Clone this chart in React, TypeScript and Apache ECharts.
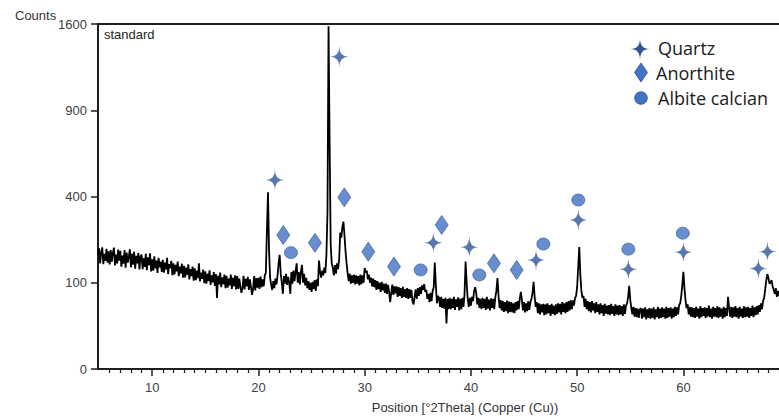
import React, { useEffect, useRef } from "react";
import * as echarts from "echarts";

// XRD scan: 2θ grid start/step, counts
const twoThetaStart = 4.9;
const twoThetaStep = 0.1;
const counts = [
  175,
  196, 150, 182, 199, 148, 178, 157, 194, 152, 186,
  147, 190, 155, 181, 198, 144, 176, 150, 192, 158,
  188, 141, 173, 149, 190, 138, 182, 152, 170, 193,
  139, 178, 146, 185, 135, 172, 150, 181, 133, 170,
  176, 134, 165, 140, 178, 131, 168, 145, 180, 128,
  162, 130, 171, 136, 158, 124, 166, 139, 155, 127,
  160, 125, 152, 133, 166, 121, 148, 137, 157, 118,
  150, 120, 146, 128, 155, 116, 141, 123, 149, 112,
  143, 113, 138, 119, 147, 108, 134, 116, 141, 105,
  136, 106, 130, 111, 150, 103, 125, 109, 133, 99,
  128, 98, 122, 104, 131, 95, 118, 101, 126, 93,
  121, 68, 117, 96, 125, 90, 113, 97, 120, 88,
  117, 89, 110, 94, 120, 86, 112, 92, 118, 85,
  116, 86, 110, 91, 78, 88, 117, 85, 109, 92,
  114, 84, 108, 90, 74, 87, 116, 83, 111, 89,
  112, 86, 115, 90, 108, 92, 118, 125, 260, 420,
  190, 112, 95, 84, 104, 88, 110, 96, 118, 150,
  175, 122, 100, 76, 116, 98, 122, 95, 114, 100,
  76, 126, 98, 130, 104, 128, 150, 100, 126, 96,
  128, 146, 100, 122, 94, 112, 88, 104, 84, 100,
  80, 102, 86, 106, 82, 108, 92, 158, 128, 112,
  130, 118, 138, 124, 175, 330, 1580, 700, 210, 150,
  138, 118, 145, 122, 150, 134, 162, 250, 232, 270,
  292, 240, 185, 150, 122, 104, 122, 98, 118, 100,
  120, 96, 118, 98, 116, 94, 120, 97, 118, 100,
  137, 125, 130, 108, 120, 100, 112, 92, 110, 90,
  106, 84, 104, 86, 100, 80, 102, 83, 98, 78,
  98, 76, 95, 80, 60, 78, 96, 74, 92, 77,
  92, 70, 90, 72, 88, 68, 91, 70, 86, 68,
  88, 66, 86, 68, 84, 62, 56, 70, 85, 66,
  88, 72, 90, 76, 94, 84, 97, 80, 84, 66,
  76, 60, 78, 62, 82, 90, 152, 95, 58, 72,
  68, 52, 70, 50, 66, 49, 68, 28, 66, 48,
  68, 48, 66, 50, 70, 47, 65, 52, 69, 46,
  66, 48, 68, 52, 75, 155, 100, 66, 52, 68,
  54, 70, 62, 82, 90, 78, 56, 68, 50, 66,
  48, 68, 50, 66, 47, 70, 49, 65, 46, 67,
  50, 66, 48, 70, 82, 111, 72, 50, 64, 46,
  62, 44, 60, 45, 63, 42, 61, 44, 60, 43,
  58, 42, 60, 46, 62, 48, 66, 80, 64, 46,
  60, 43, 58, 45, 62, 47, 60, 66, 78, 102,
  70, 52, 60, 42, 58, 40, 56, 43, 57, 39,
  56, 40, 58, 42, 55, 38, 57, 41, 54, 39,
  56, 41, 58, 43, 57, 40, 60, 44, 58, 42,
  60, 44, 62, 46, 64, 48, 63, 54, 68, 72,
  90, 140, 200, 120, 82, 68, 72, 52, 66, 48,
  62, 45, 60, 43, 62, 46, 58, 42, 60, 44,
  56, 40, 58, 42, 55, 38, 57, 41, 54, 40,
  55, 39, 57, 41, 53, 38, 56, 40, 54, 39,
  55, 40, 53, 38, 56, 41, 54, 58, 70, 93,
  64, 50, 40, 52, 37, 50, 36, 49, 35, 48,
  50, 34, 49, 36, 51, 33, 48, 35, 50, 34,
  49, 35, 51, 33, 48, 36, 52, 34, 49, 35,
  51, 36, 49, 34, 52, 35, 50, 37, 51, 34,
  49, 36, 52, 38, 51, 40, 55, 58, 72, 95,
  127, 88, 64, 50, 56, 40, 52, 37, 51, 36,
  50, 35, 52, 37, 49, 34, 53, 36, 50, 38,
  51, 35, 50, 37, 54, 36, 49, 34, 52, 37,
  50, 36, 53, 35, 51, 37, 49, 34, 52, 36,
  50, 38, 70, 50, 37, 52, 35, 51, 37, 53,
  36, 50, 34, 52, 37, 49, 35, 53, 36, 51,
  37, 52, 35, 50, 38, 54, 36, 51, 39, 53,
  40, 55, 44, 58, 48, 62, 68, 85, 105, 121,
  112, 98, 100, 106, 92, 84, 76, 88, 70, 82,
  72,
];

// Phase markers: [2θ, counts]
const quartzMarks = [
  [21.55, 480], [27.61, 1311], [36.46, 214], [39.85, 199], [46.13, 160],
  [50.11, 298], [54.82, 134], [60.0, 183], [67.06, 136], [67.91, 185],
];
const anorthiteMarks = [
  [22.34, 241], [25.32, 214], [28.08, 396], [30.34, 185], [32.76, 141],
  [37.25, 279], [42.17, 150], [44.31, 132],
];
const albiteMarks = [
  [23.06, 182], [35.27, 132], [40.79, 119], [46.82, 210], [50.11, 384],
  [54.82, 193], [59.94, 248],
];

const phaseNames = ["Quartz", "Anorthite", "Albite calcian"];
const yTickCounts = [0, 100, 400, 900, 1600];
const xMajorTicks = [10, 20, 30, 40, 50, 60];
const xMinorTicks = [
  6, 7, 8, 9, 11, 12, 13, 14, 15, 16, 17, 18, 19, 21, 22, 23, 24, 25, 26, 27, 28, 29,
  31, 32, 33, 34, 35, 36, 37, 38, 39, 41, 42, 43, 44, 45, 46, 47, 48, 49,
  51, 52, 53, 54, 55, 56, 57, 58, 59, 61, 62, 63, 64, 65, 66, 67, 68, 69,
];
const xMin = 4.9;
const xMax = 69.0;

const STAR_D = "M0,-10 Q0,0 10,0 Q0,0 0,10 Q0,0 -10,0 Q0,0 0,-10 Z";
echarts.graphic.registerShape("star4", echarts.graphic.extendPath(STAR_D, {}) as any);

const AX = "#1e1e1e";
const LBL = "#404040";
const FONT = "'Liberation Sans', Arial, sans-serif";
const STAR_C = "#2F5597";
const BLUE = "#4472C4";
const BLUE_EDGE = "#2F528F";

export default function App() {
  const ref = useRef<HTMLDivElement>(null);
  useEffect(() => {
    if (!ref.current) return;
    const chart = echarts.init(ref.current, undefined, { renderer: "svg" });
    const sq = (v: number) => Math.sqrt(v);
    const lineData = counts.map((c, i) => [
      Math.round((twoThetaStart + i * twoThetaStep) * 100) / 100,
      sq(c),
    ]);
    const toPts = (arr: number[][]) => arr.map((p) => [p[0], sq(p[1])]);
    const yMax = sq(yTickCounts[yTickCounts.length - 1]);

    chart.setOption({
      animation: false,
      grid: { left: 98, right: 0, top: 24, bottom: 47, containLabel: false },
      xAxis: [
        {
          type: "value", min: xMin, max: xMax, position: "bottom",
          axisLine: { show: true, lineStyle: { color: AX, width: 2 } },
          axisTick: { show: true, customValues: xMajorTicks, length: 7, lineStyle: { color: AX, width: 1.5 } },
          axisLabel: { show: true, customValues: xMajorTicks, color: LBL, fontSize: 13, fontFamily: FONT, margin: 12 },
          splitLine: { show: false },
        },
        {
          type: "value", min: xMin, max: xMax, position: "bottom",
          axisLine: { show: false },
          axisTick: { show: true, customValues: xMinorTicks, length: 4, lineStyle: { color: AX, width: 1.2 } },
          axisLabel: { show: false },
          splitLine: { show: false },
        },
        {
          type: "value", min: xMin, max: xMax, position: "top",
          axisLine: { show: true, lineStyle: { color: AX, width: 2 } },
          axisTick: { show: false },
          axisLabel: { show: false },
          splitLine: { show: false },
        },
      ],
      yAxis: {
        type: "value", min: 0, max: yMax, interval: 10,
        axisLine: { show: true, lineStyle: { color: AX, width: 2 } },
        axisTick: { show: true, length: 7, lineStyle: { color: AX, width: 1.5 } },
        axisLabel: {
          color: LBL, fontSize: 13, fontFamily: FONT, margin: 11,
          formatter: (v: number) => String(Math.round(v * v)),
        },
        splitLine: { show: false },
      },
      series: [
        {
          type: "line", data: lineData, showSymbol: false, symbol: "none",
          lineStyle: { color: "#000", width: 1.8, join: "bevel" }, silent: true, z: 2,
        },
        {
          name: phaseNames[0], type: "scatter", data: toPts(quartzMarks),
          symbol: "path://" + STAR_D, symbolSize: [18, 21],
          itemStyle: { color: STAR_C }, z: 3,
        },
        {
          name: phaseNames[1], type: "scatter", data: toPts(anorthiteMarks),
          symbol: "diamond", symbolSize: [13, 19],
          itemStyle: { color: BLUE, borderColor: BLUE_EDGE, borderWidth: 0.8 }, z: 3,
        },
        {
          name: phaseNames[2], type: "scatter", data: toPts(albiteMarks),
          symbol: "circle", symbolSize: [13, 12],
          itemStyle: { color: BLUE, borderColor: BLUE_EDGE, borderWidth: 0.8 }, z: 3,
        },
      ],
      graphic: [
        { type: "text", x: 15, y: 15, style: { text: "Counts", font: `13px ${FONT}`, fill: "#333", verticalAlign: "middle" } },
        { type: "text", x: 104, y: 34, style: { text: "standard", font: `13px ${FONT}`, fill: "#262626", verticalAlign: "middle" } },
        { type: "text", x: 465, y: 407, style: { text: "Position [°2Theta] (Copper (Cu))", font: `13px ${FONT}`, fill: "#333", align: "center", verticalAlign: "middle" } },
        { type: "star4", x: 640, y: 49, scaleX: 0.95, scaleY: 1.1, style: { fill: STAR_C }, z: 10 },
        { type: "polygon", shape: { points: [[641, 63], [647.5, 72.5], [641, 82], [634.5, 72.5]] }, style: { fill: BLUE, stroke: BLUE_EDGE, lineWidth: 0.8 }, z: 10 },
        { type: "circle", shape: { cx: 641, cy: 98, r: 6.3 }, style: { fill: BLUE, stroke: BLUE_EDGE, lineWidth: 0.8 }, z: 10 },
        { type: "text", x: 658, y: 48, style: { text: phaseNames[0], font: "18px 'Open Sans'", fill: "#1a1a1a", verticalAlign: "middle" }, z: 10 },
        { type: "text", x: 656, y: 73, style: { text: phaseNames[1], font: "18px 'Open Sans'", fill: "#1a1a1a", verticalAlign: "middle" }, z: 10 },
        { type: "text", x: 658, y: 98, style: { text: phaseNames[2], font: "18px 'Open Sans'", fill: "#1a1a1a", verticalAlign: "middle" }, z: 10 },
      ],
    });
    return () => chart.dispose();
  }, []);
  return (
    <div
      ref={ref}
      style={{ position: "fixed", left: 0, top: 0, width: 779, height: 416, background: "#fff" }}
    />
  );
}
